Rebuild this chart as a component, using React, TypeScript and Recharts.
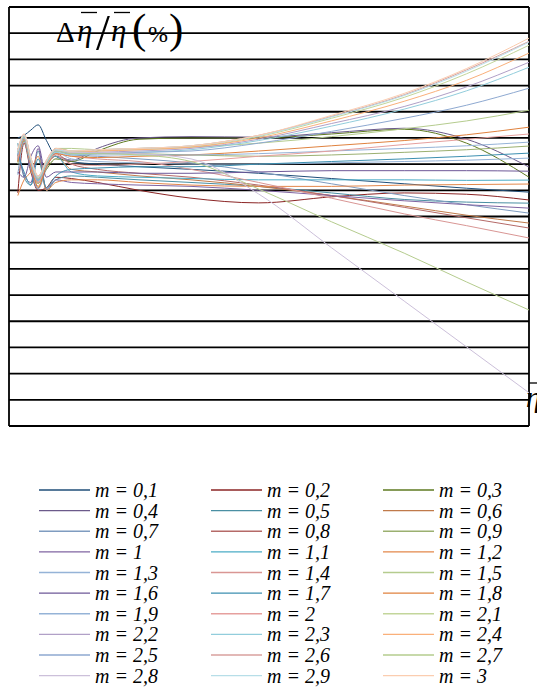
import React from 'react';
import { LineChart, Line, XAxis, YAxis, CartesianGrid, ReferenceLine } from 'recharts';

// abscissa samples (relative eta), shared by every curve
const xs = [1.7, 2.9, 4.2, 5.6, 7.2, 9, 12, 17, 25, 35, 48, 62, 76, 88, 100];

// relative error (%) per curve
const m01 = [1.0, 1.1, 1.3, 1.5, 0.9, 0.3, 0.1, 0.0, -0.1, -0.2, -0.35, -0.55, -0.75, -0.92, -1.07];
const m02 = [-1.1, 0.8, -0.3, -1.0, -0.9, -0.5, -0.55, -0.7, -1.0, -1.3, -1.48, -1.25, -1.1, -1.15, -1.37];
const m03 = [0.1, 0.9, -0.1, -0.7, -0.2, 0.2, 0.1, 0.5, 0.95, 1.0, 1.0, 1.15, 1.33, 0.8, -0.5];
const m04 = [0.3, 1.0, 0.0, -0.6, 0.0, 0.3, 0.15, 0.6, 1.0, 1.05, 1.03, 1.2, 1.37, 0.95, -0.11];
const m05 = [0.8, -0.5, -0.8, 0.5, -1.0, -0.6, -0.45, -0.5, -0.6, -0.7, -0.85, -1.1, -1.35, -1.45, -1.49];
const m06 = [0.2, 1.0, 0.1, -0.9, -0.1, 0.3, -0.2, -0.3, -0.45, -0.6, -0.85, -1.2, -1.6, -1.95, -2.25];
const m07 = [-0.4, 0.85, -0.2, -0.95, -0.15, 0.5, 0.35, 0.3, 0.2, 0.05, -0.3, -0.75, -1.2, -1.55, -1.87];
const m08 = [0.3, 1.05, 0.15, -0.55, 0.1, 0.4, 0.0, -0.2, -0.35, -0.5, -0.8, -1.2, -1.65, -2.05, -2.44];
const m09 = [0.0, 0.9, 0.0, -0.75, -0.05, 0.6, 0.5, 0.45, 0.4, 0.35, 0.3, 0.35, 0.45, 0.55, 0.69];
const m10 = [0.6, -0.4, -0.7, 0.6, -0.95, -0.6, -0.7, -0.75, -0.8, -0.85, -1.0, -1.2, -1.4, -1.55, -1.68];
const m11 = [0.2, 1.0, 0.05, -0.65, 0.05, 0.3, -0.3, -0.45, -0.5, -0.55, -0.6, -0.6, -0.6, -0.62, -0.61];
const m12 = [-1.2, -0.6, -0.3, 0.3, -1.0, -0.7, -0.6, -0.6, -0.7, -0.8, -0.85, -0.85, -0.8, -0.78, -0.76];
const m13 = [0.15, 0.95, 0.05, -0.6, 0.05, 0.45, 0.2, 0.1, 0.05, 0.0, 0.0, 0.05, 0.1, 0.15, 0.23];
const m14 = [0.1, 0.95, 0.0, -0.7, -0.1, 0.4, 0.3, 0.2, 0.1, -0.2, -0.7, -1.3, -1.9, -2.35, -2.82];
const m15 = [0.3, 1.05, 0.1, -0.6, 0.05, 0.6, 0.6, 0.55, 0.6, 0.65, 0.8, 1.05, 1.35, 1.65, 2.06];
const m16 = [-0.3, -0.5, 0.3, 0.7, -0.5, -0.3, -0.3, -0.3, -0.35, -0.35, -0.3, -0.25, -0.25, -0.25, -0.27];
const m17 = [0.4, -0.3, -0.8, 0.2, -0.9, -0.45, -0.2, -0.15, -0.1, -0.1, 0.0, 0.1, 0.2, 0.3, 0.42];
const m18 = [0.1, 0.95, -0.05, -0.85, -0.1, 0.4, 0.3, 0.25, 0.3, 0.35, 0.5, 0.7, 0.9, 1.12, 1.41];
const m19 = [0.35, 1.0, 0.1, -0.6, 0.1, 0.5, 0.4, 0.35, 0.35, 0.35, 0.4, 0.5, 0.6, 0.7, 0.84];
const m20 = [0.2, 1.0, 0.0, -0.7, 0.0, 0.35, 0.0, -0.05, 0.0, 0.1, 0.3, 0.5, 0.75, 0.95, 1.15];
const m21 = [0.5, 1.1, 0.2, -0.5, 0.1, 0.55, 0.45, 0.5, 0.55, 0.65, 1.05, 1.75, 2.55, 3.45, 4.54];
const m22 = [0.45, 1.05, 0.15, -0.55, 0.05, 0.5, 0.4, 0.45, 0.5, 0.6, 0.95, 1.55, 2.2, 2.95, 3.89];
const m23 = [0.4, 1.0, 0.1, -0.6, 0.0, 0.45, 0.35, 0.4, 0.45, 0.55, 0.9, 1.45, 2.1, 2.8, 3.7];
const m24 = [0.5, 1.1, 0.2, -0.5, 0.1, 0.55, 0.45, 0.5, 0.55, 0.65, 1.0, 1.65, 2.4, 3.2, 4.24];
const m25 = [0.35, 1.0, 0.1, -0.6, 0.05, 0.5, 0.4, 0.4, 0.45, 0.5, 0.8, 1.25, 1.75, 2.25, 2.9];
const m26 = [0.55, 1.15, 0.25, -0.45, 0.15, 0.6, 0.5, 0.55, 0.6, 0.7, 1.1, 1.82, 2.65, 3.6, 4.69];
const m27 = [0.45, 1.05, 0.15, -0.55, 0.05, 0.5, 0.4, 0.4, 0.35, 0.1, -0.95, -2.2, -3.4, -4.5, -5.57];
const m28 = [0.5, 1.1, 0.2, -0.5, 0.1, 0.55, 0.45, 0.45, 0.4, 0.2, -1.14, -3.19, -5.23, -6.98, -8.73];
const m29 = [0.5, 1.1, 0.2, -0.5, 0.1, 0.55, 0.5, 0.55, 0.6, 0.7, 1.08, 1.8, 2.62, 3.55, 4.66];
const m30 = [0.55, 1.15, 0.25, -0.45, 0.15, 0.6, 0.5, 0.55, 0.6, 0.7, 1.1, 1.86, 2.7, 3.65, 4.81];

const labels = [
  'm = 0,1', 'm = 0,2', 'm = 0,3', 'm = 0,4', 'm = 0,5', 'm = 0,6',
  'm = 0,7', 'm = 0,8', 'm = 0,9', 'm = 1', 'm = 1,1', 'm = 1,2',
  'm = 1,3', 'm = 1,4', 'm = 1,5', 'm = 1,6', 'm = 1,7', 'm = 1,8',
  'm = 1,9', 'm = 2', 'm = 2,1', 'm = 2,2', 'm = 2,3', 'm = 2,4',
  'm = 2,5', 'm = 2,6', 'm = 2,7', 'm = 2,8', 'm = 2,9', 'm = 3',
];

const colors = [
  '#1F4E79', '#8B2525', '#5E7A20', '#6B5A8A', '#4A8FA3', '#C07A4A',
  '#7F9CC0', '#B56A68', '#9BB070', '#8064A2', '#4BACC6', '#E3874A',
  '#95B3D7', '#D99694', '#B5CC8E', '#6E5898', '#3C8FB0', '#E0823E',
  '#95B3D7', '#E6A09E', '#C3D69B', '#B1A0C7', '#92CDDC', '#FAB07A',
  '#8EA9D1', '#D9A09E', '#B5CC8E', '#CCC0DA', '#B7DEE8', '#FBCDB0',
];

const yTicks = [-10, -9, -8, -7, -6, -5, -4, -3, -2, -1, 0, 1, 2, 3, 4, 5, 6];

const curves = [
  m01, m02, m03, m04, m05, m06, m07, m08, m09, m10,
  m11, m12, m13, m14, m15, m16, m17, m18, m19, m20,
  m21, m22, m23, m24, m25, m26, m27, m28, m29, m30,
];

const chartData = xs.map((x, i) => {
  const row: Record<string, number> = { x };
  curves.forEach((c, k) => {
    row['s' + k] = c[i];
  });
  return row;
});

const serif = '"Liberation Serif", "Times New Roman", serif';

const Legend30 = () => (
  <svg width={537} height={210} style={{ position: 'absolute', left: 0, top: 478 }}>
    {labels.map((lab, k) => {
      const col = k % 3;
      const row = Math.floor(k / 3);
      const x0 = [39, 211, 383][col];
      const y = 12 + row * 20.63;
      return (
        <g key={lab}>
          <line x1={x0} x2={x0 + 51} y1={y} y2={y} stroke={colors[k]} strokeWidth={1.4} />
          <text x={x0 + 56} y={y + 7} fontFamily={serif} fontStyle="italic" fontSize={20} fill="#000">
            {lab}
          </text>
        </g>
      );
    })}
  </svg>
);

export default function App() {
  return (
    <div style={{ position: 'absolute', left: 0, top: 0, width: 537, height: 687, overflow: 'hidden', background: '#fff' }}>
      <LineChart width={537} height={440} data={chartData} margin={{ top: 7, right: 8, bottom: 14, left: 9 }}>
        <XAxis type="number" dataKey="x" domain={[0, 100]} hide />
        <YAxis type="number" domain={[-10, 6]} ticks={yTicks} hide />
        <CartesianGrid vertical={false} stroke="#000" strokeWidth={1.8} />
        <ReferenceLine x={0} stroke="#000" strokeWidth={1.8} />
        <ReferenceLine x={100} stroke="#000" strokeWidth={1.8} />
        {curves.map((c, k) => (
          <Line
            key={k}
            dataKey={'s' + k}
            type="monotone"
            stroke={colors[k]}
            strokeWidth={1}
            dot={false}
            activeDot={false}
            isAnimationActive={false}
          />
        ))}
      </LineChart>

      {/* axis titles drawn over the plot */}
      <svg width={537} height={440} style={{ position: 'absolute', left: 0, top: 0, pointerEvents: 'none' }}>
        <g fontFamily={serif} fill="#000">
          <text x={56} y={42} fontSize={29}>Δ</text>
          <text x={77} y={41} fontSize={31} fontStyle="italic">η</text>
          <line x1={81} x2={97} y1={12.5} y2={12.5} stroke="#000" strokeWidth={1.3} />
          <text x={96} y={49} fontSize={50}>/</text>
          <text x={111} y={41} fontSize={31} fontStyle="italic">η</text>
          <line x1={114} x2={130} y1={12.5} y2={12.5} stroke="#000" strokeWidth={1.3} />
          <text x={132} y={43} fontSize={43}>(</text>
          <text x={148} y={42} fontSize={24}>%</text>
          <text x={169} y={43} fontSize={43}>)</text>
          <text x={526} y={407} fontSize={30} fontStyle="italic">η</text>
          <line x1={529} x2={537} y1={383} y2={383} stroke="#000" strokeWidth={1.3} />
        </g>
      </svg>

      <Legend30 />
    </div>
  );
}
